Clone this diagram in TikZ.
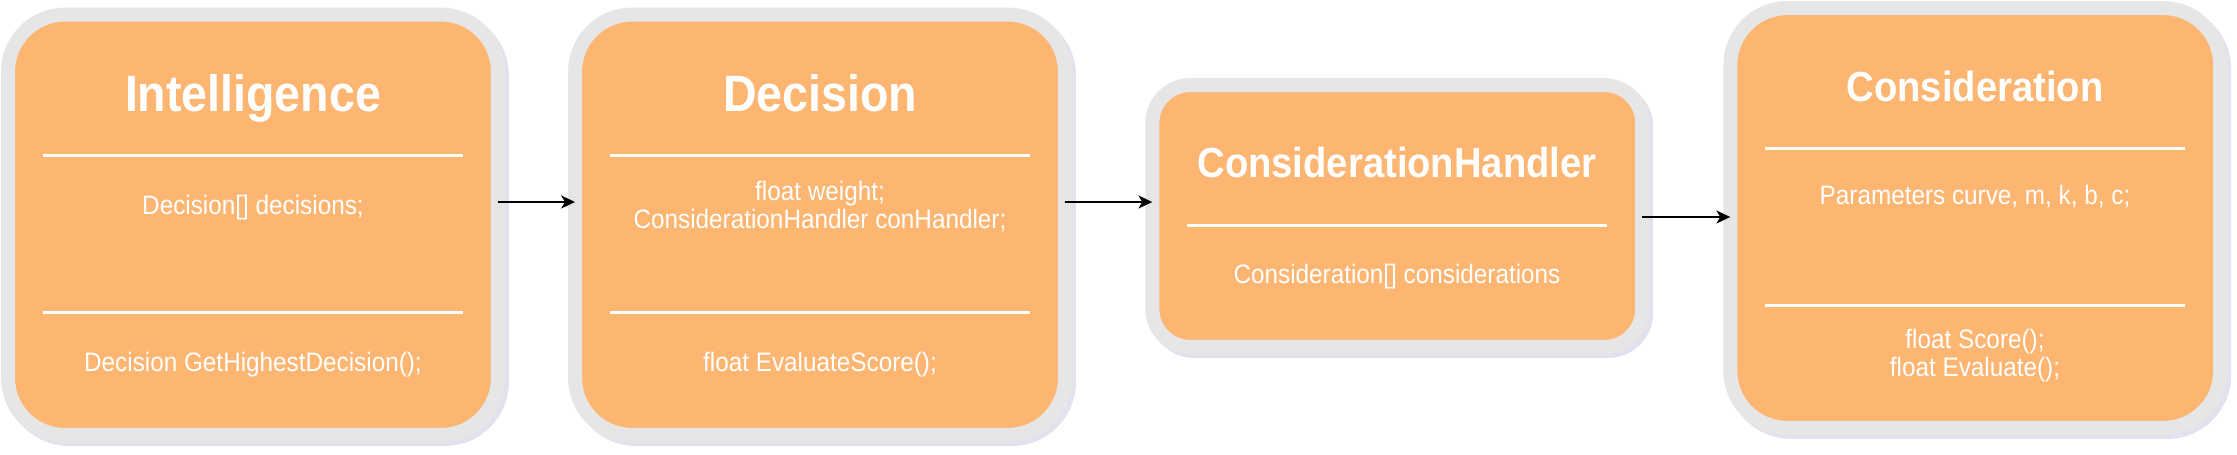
\documentclass[tikz,border=0pt]{standalone}
\usepackage{fontspec}
\setmainfont{Liberation Sans}[FakeStretch=0.91]
\usetikzlibrary{arrows.meta,shadows}
\definecolor{boxfill}{HTML}{FDB572}
\definecolor{boxrim}{HTML}{E6E6E6}
\definecolor{rimshade}{HTML}{B4B7D2}
\tikzset{
  classbox/.style={
    draw=boxrim, fill=boxfill, line width=0.28cm, rounded corners=1.14cm,
    inner sep=0pt, outer sep=0pt, minimum width=9.8cm,
    drop shadow={shadow xshift=0.08cm, shadow yshift=-0.08cm, opacity=0.4,
      fill=rimshade, draw=rimshade, line width=0.28cm}},
  smallbox/.style={classbox, rounded corners=0.76cm},
  head/.style={text=white, anchor=base, inner sep=0pt,
    font=\fontsize{29.1pt}{34pt}\selectfont\bfseries},
  subhead/.style={head, font=\fontsize{23.9pt}{28pt}\selectfont\bfseries},
  member/.style={text=white, anchor=base, inner sep=0pt,
    font=\fontsize{15.2pt}{18pt}\selectfont},
  divider/.style={draw=white, line width=0.06cm},
  assoc/.style={draw=black, line width=1pt,
    -{Stealth[length=7.9pt, width=7.4pt, inset=2.2pt]}},
}
\begin{document}
\begin{tikzpicture}[x=0.02cm, y=-0.02cm]
  \useasboundingbox (0,0) rectangle (2237,454);

  \node[classbox, minimum height=8.41cm] (intel) at (253,224.75) {};
  \node[classbox, minimum height=8.41cm] (decision) at (820,224.75) {};
  \node[smallbox, minimum height=5.24cm] (handler) at (1397.25,216) {};
  \node[classbox, minimum height=8.4cm] (consid) at (1975.25,218) {};

  \node[head] (intelhead) at (253,111) {Intelligence};
  \draw[divider] (43,155) -- (463,155);
  \node[member] (inteldata) at (253,214) {Decision[] decisions;};
  \draw[divider] (43,312) -- (463,312);
  \node[member] (intelfunc) at (253,371) {Decision GetHighestDecision();};

  \node[head] (dechead) at (820,111) {Decision};
  \draw[divider] (610,155) -- (1030,155);
  \node[member] (decweight) at (820,200) {float weight;};
  \node[member] (dechandler) at (820,228) {ConsiderationHandler conHandler;};
  \draw[divider] (610,312) -- (1030,312);
  \node[member] (decfunc) at (820,371) {float EvaluateScore();};

  \node[subhead] (handhead) at (1397,177) {ConsiderationHandler};
  \draw[divider] (1187,225) -- (1607,225);
  \node[member] (handdata) at (1397,283) {Consideration[] considerations};

  \node[subhead] (conshead) at (1975,101) {Consideration};
  \draw[divider] (1765,148) -- (2185,148);
  \node[member] (consdata) at (1975,204) {Parameters curve, m, k, b, c;};
  \draw[divider] (1765,305) -- (2185,305);
  \node[member] (consscore) at (1975,348) {float Score();};
  \node[member] (conseval) at (1975,376) {float Evaluate();};

  \draw[assoc] ([yshift=0.455cm]intel.east) -- ([yshift=0.455cm]decision.west);
  \draw[assoc] ([yshift=0.455cm]decision.east) -- ([yshift=0.28cm]handler.west);
  \draw[assoc] ([yshift=-0.02cm]handler.east) -- ([yshift=0.02cm]consid.west);

\end{tikzpicture}
\end{document}
